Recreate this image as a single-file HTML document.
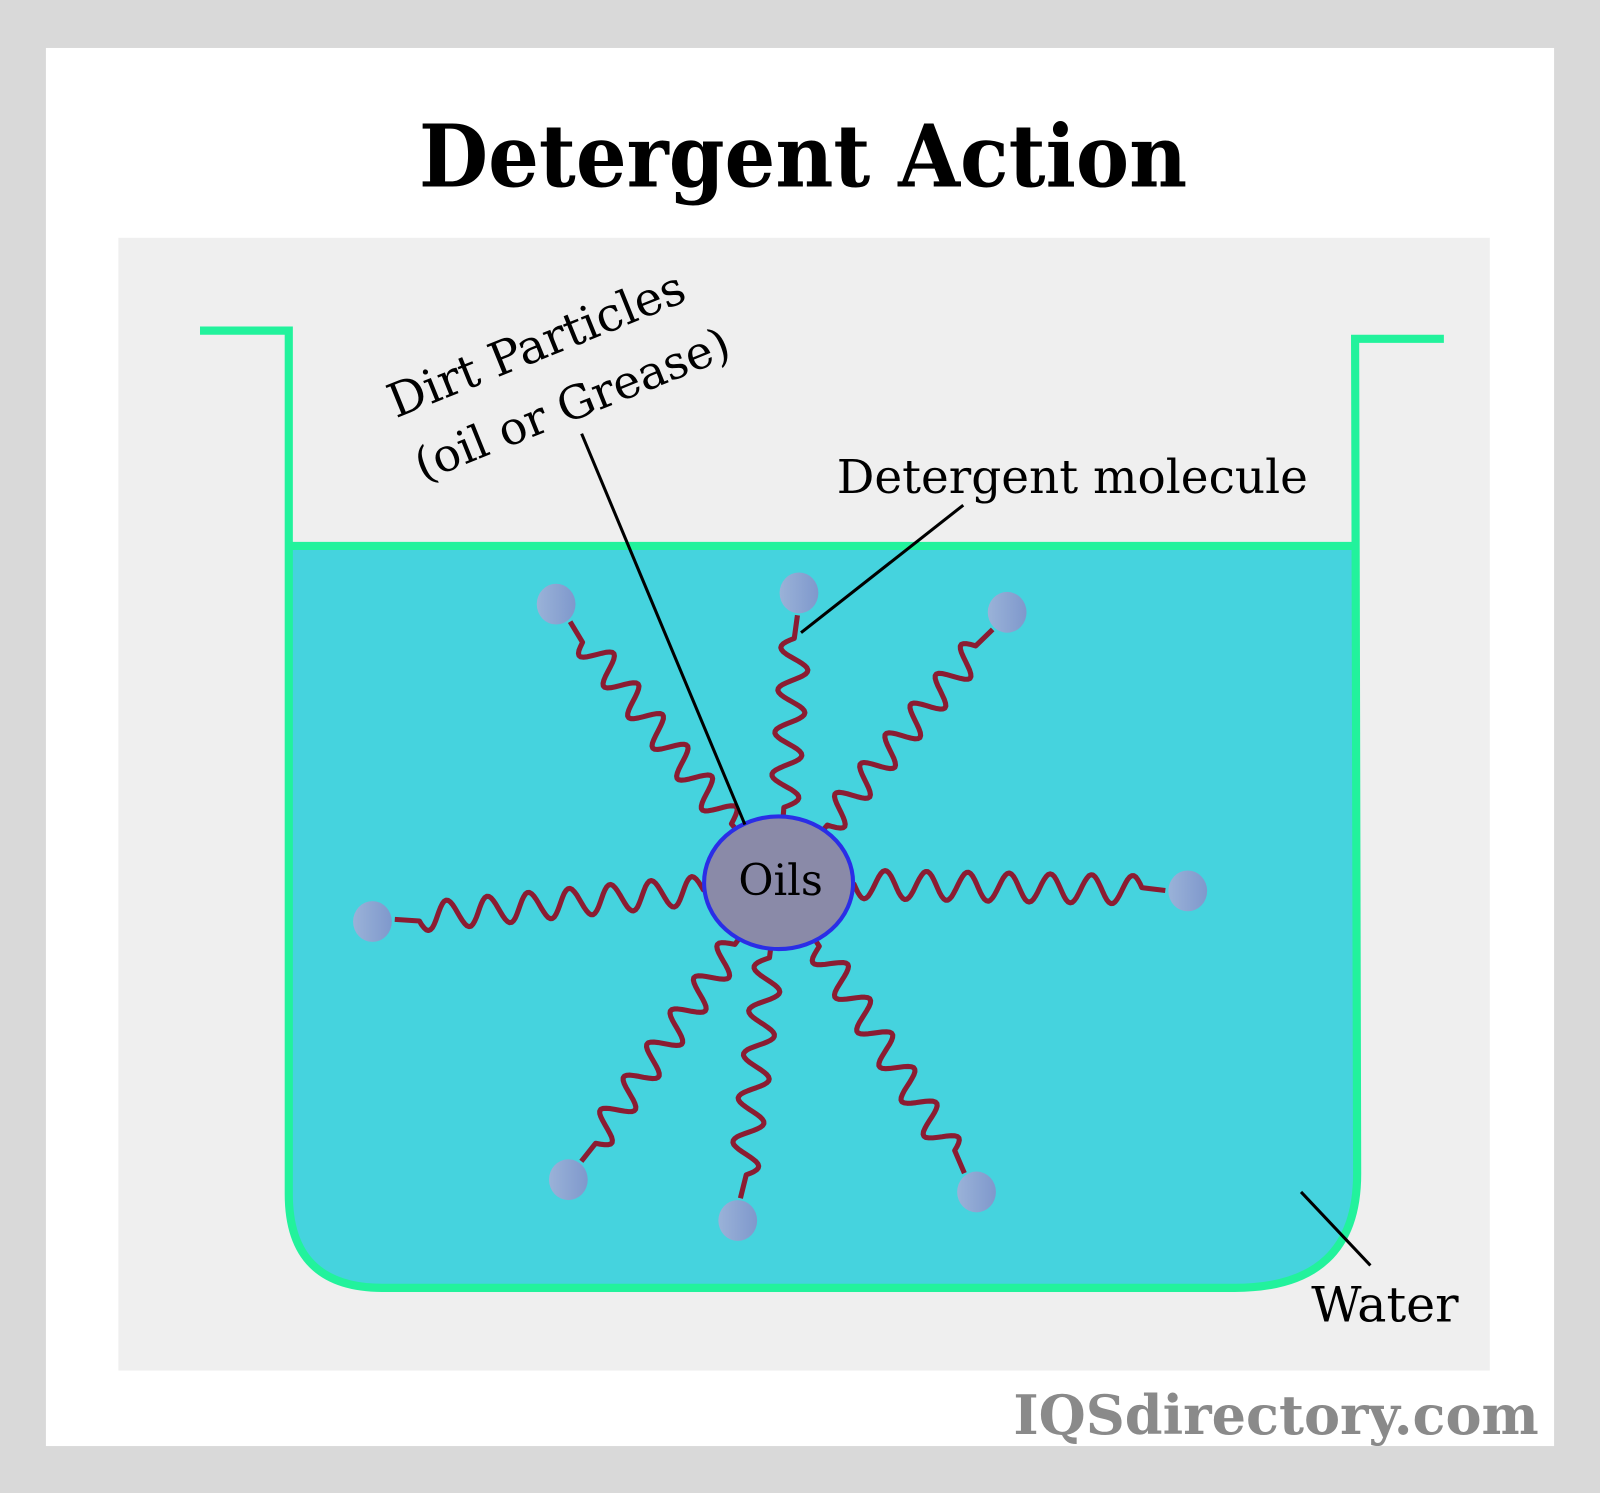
<!DOCTYPE html>
<html><head><meta charset="utf-8"><style>
html,body{margin:0;padding:0;background:#d9d9d9}
svg{display:block}
</style></head><body>
<svg id="s" width="1600" height="1493" viewBox="0 0 1568 1463" preserveAspectRatio="none" xmlns="http://www.w3.org/2000/svg">
<defs>
<linearGradient id="bg" x1="0" y1="0" x2="1" y2="0"><stop offset="0" stop-color="#9ab2d8"/><stop offset="1" stop-color="#7f98cc"/></linearGradient>
</defs>
<rect width="1568" height="1463" fill="#d9d9d9"/>
<rect x="45" y="47" width="1478" height="1370" fill="#ffffff"/>
<text x="787" y="183" text-anchor="middle" font-family="DejaVu Serif, Liberation Serif, serif" font-weight="bold" font-size="84" fill="#000" textLength="753" lengthAdjust="spacingAndGlyphs">Detergent Action</text>
<rect x="116" y="233" width="1344" height="1110" fill="#efefef"/>
<path d="M283,535 L1330,535 L1330,1150 Q1330,1262 1210,1262 L375,1262 Q283,1262 283,1170 Z" fill="#45d3de"/>
<path d="M196,324 L283,324 L283,1170 Q283,1262 375,1262 L1210,1262 Q1330,1262 1330,1150 L1328,332 L1415,332" fill="none" stroke="#22f29c" stroke-width="8"/>
<line x1="283" y1="535" x2="1330" y2="535" stroke="#22f29c" stroke-width="8"/>
<g id="chains" fill="none" stroke="#8b1c32" stroke-width="5" stroke-linejoin="round"></g>
<ellipse cx="763" cy="865" rx="73" ry="65" fill="#8a8aa8" stroke="#2a2ee6" stroke-width="4"/>
<text x="765" y="877" text-anchor="middle" font-family="DejaVu Serif, Liberation Serif, serif" font-size="42" fill="#000">Oils</text>
<g id="balls" fill="url(#bg)"></g>
<g font-family="DejaVu Serif, Liberation Serif, serif" fill="#000">
<text transform="translate(388,410) rotate(-22)" font-size="46">Dirt Particles</text>
<text transform="translate(414,472) rotate(-22)" font-size="45">(oil or Grease)</text>
<text x="820" y="483" font-size="46">Detergent molecule</text>
<text x="1285" y="1295" font-size="48">Water</text>
</g>
<g stroke="#000" stroke-width="3">
<line x1="570" y1="425" x2="730" y2="808"/>
<line x1="944" y1="495" x2="785" y2="620"/>
<line x1="1275" y1="1168" x2="1343" y2="1240"/>
</g>
<text x="1508" y="1405" text-anchor="end" font-family="DejaVu Serif, Liberation Serif, serif" font-weight="bold" font-size="53" fill="#8a8a8a">IQSdirectory.com</text>
</svg>
<script>
var ns="http://www.w3.org/2000/svg";
var cx=763,cy=865;
var balls=[[545,592],[783,581],[987,600],[365,903],[1164,873],[557,1156],[723,1196],[957,1168]];
var ch=document.getElementById('chains'),bg=document.getElementById('balls');
balls.forEach(function(b){
  var dx=b[0]-cx,dy=b[1]-cy,L=Math.sqrt(dx*dx+dy*dy),ux=dx/L,uy=dy/L,px=-uy,py=ux;
  var s=66,e=L-22,w0=s+8,w1=e-22;
  var per=40,n=Math.max(1,Math.round((w1-w0)/per));per=(w1-w0)/n;
  var d="M"+(cx+ux*s).toFixed(1)+","+(cy+uy*s).toFixed(1);
  for(var t=w0;t<=w1+0.01;t+=2){
    var a=14*Math.sin((t-w0)/per*2*Math.PI);
    d+=" L"+(cx+ux*t+px*a).toFixed(1)+","+(cy+uy*t+py*a).toFixed(1);
  }
  d+=" L"+(cx+ux*e).toFixed(1)+","+(cy+uy*e).toFixed(1);
  var p=document.createElementNS(ns,'path');p.setAttribute('d',d);ch.appendChild(p);
  var c=document.createElementNS(ns,'ellipse');c.setAttribute('cx',b[0]);c.setAttribute('cy',b[1]);c.setAttribute('rx',19);c.setAttribute('ry',20);bg.appendChild(c);
});
</script>
</body></html>
